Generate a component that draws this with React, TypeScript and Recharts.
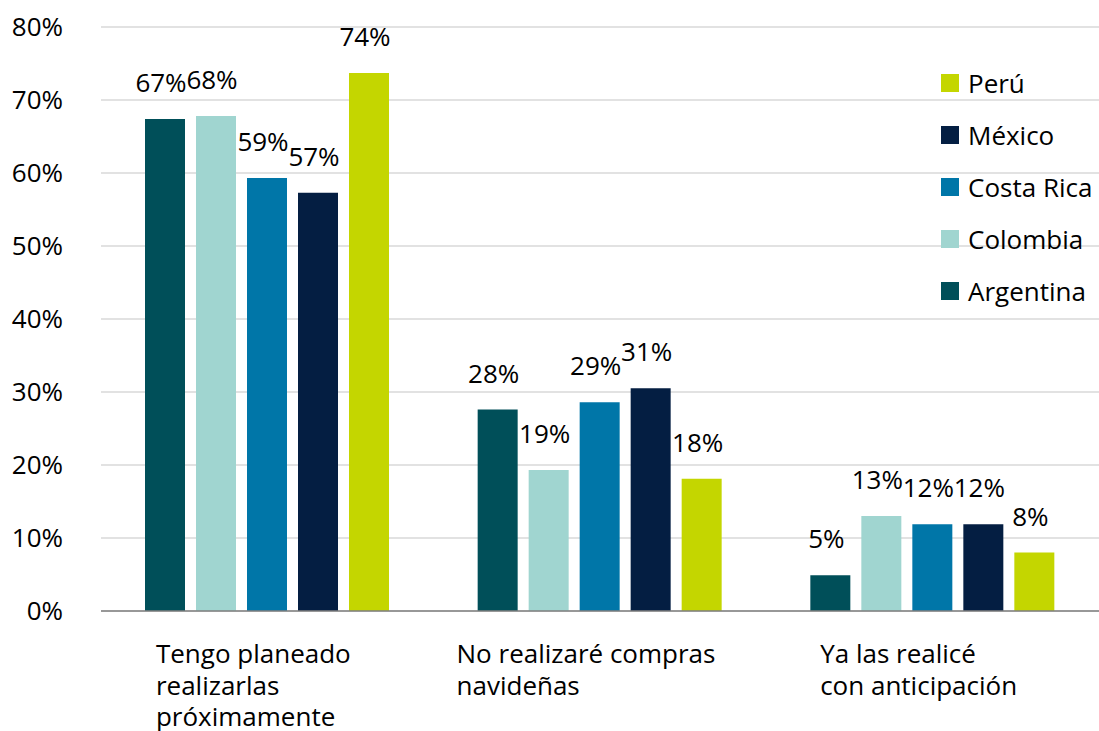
import { Bar, BarChart, CartesianGrid, LabelList, Legend, XAxis, YAxis } from 'recharts';

const categories = [
  'Tengo planeado realizarlas próximamente',
  'No realizaré compras navideñas',
  'Ya las realicé con anticipación',
];
const categoryLines = [
  ['Tengo planeado', 'realizarlas', 'próximamente'],
  ['No realizaré compras', 'navideñas'],
  ['Ya las realicé', 'con anticipación'],
];

const argentina = [67.4, 27.6, 4.9];
const colombia = [67.8, 19.3, 13.0];
const costaRica = [59.3, 28.6, 11.9];
const mexico = [57.3, 30.5, 11.9];
const peru = [73.7, 18.1, 8.0];

const yTicks = [0, 10, 20, 30, 40, 50, 60, 70, 80];

const FONT = '"Open Sans", "Noto Sans", sans-serif';
const FS = 26;

const series = [
  { key: 'argentina', name: 'Argentina', values: argentina, color: '#004F59' },
  { key: 'colombia', name: 'Colombia', values: colombia, color: '#A0D5D0' },
  { key: 'costaRica', name: 'Costa Rica', values: costaRica, color: '#0076A8' },
  { key: 'mexico', name: 'México', values: mexico, color: '#041E42' },
  { key: 'peru', name: 'Perú', values: peru, color: '#C4D600' },
];

const data = categories.map((name, i) => {
  const row: Record<string, number | string> = { name };
  series.forEach((s) => {
    row[s.key] = s.values[i];
  });
  return row;
});

let canvas: HTMLCanvasElement | null = null;
function textWidth(text: string) {
  if (!canvas) canvas = document.createElement('canvas');
  const ctx = canvas.getContext('2d');
  if (!ctx) return text.length * FS * 0.5;
  ctx.font = `${FS}px ${FONT}`;
  return ctx.measureText(text).width;
}

function CategoryTick({ x, y, payload }: any) {
  const lines = categoryLines[payload.index] ?? [String(payload.value)];
  const block = Math.max(...lines.map(textWidth));
  const left = x - block / 2 - 14;
  return (
    <text x={left} y={y + 44} fontSize={FS} fontFamily={FONT} fill="#000">
      {lines.map((line: string, i: number) => (
        <tspan key={line} x={left} dy={i === 0 ? 0 : 31.5}>
          {line}
        </tspan>
      ))}
    </text>
  );
}

function LegendBox() {
  const items = [...series].reverse();
  return (
    <div style={{ fontFamily: FONT, fontSize: FS, color: '#000', lineHeight: 1 }}>
      {items.map((s) => (
        <div key={s.key} style={{ display: 'flex', alignItems: 'center', height: 52 }}>
          <span style={{ width: 18, height: 18, background: s.color, marginRight: 9, display: 'inline-block' }} />
          <span>{s.name}</span>
        </div>
      ))}
    </div>
  );
}

export default function App() {
  return (
    <div style={{ position: 'absolute', left: 0, top: 0, background: '#fff' }}>
      <BarChart
        width={1099}
        height={731}
        data={data}
        margin={{ top: 27, right: 0, left: 0, bottom: 0 }}
        barSize={40}
        barGap={11}
      >
        <CartesianGrid vertical={false} stroke="#D9D9D9" strokeWidth={1.5} />
        <XAxis
          dataKey="name"
          tick={<CategoryTick />}
          tickLine={false}
          axisLine={{ stroke: '#7F7F7F', strokeWidth: 1.5 }}
          interval={0}
          height={120}
        />
        <YAxis
          type="number"
          domain={[0, 80]}
          ticks={yTicks}
          width={101}
          tickSize={0}
          tickMargin={38}
          axisLine={false}
          tickLine={false}
          tickFormatter={(v: number) => `${v}%`}
          tick={{ fontSize: FS, fontFamily: FONT, fill: '#000' }}
        />
        <Legend
          verticalAlign="middle"
          align="center"
          layout="vertical"
          content={<LegendBox />}
          wrapperStyle={{ left: 941, top: 57, width: 158 }}
        />
        {series.map((s) => (
          <Bar key={s.key} dataKey={s.key} name={s.name} fill={s.color} isAnimationActive={false}>
            <LabelList
              dataKey={s.key}
              position="top"
              offset={27}
              formatter={(v: number) => `${Math.round(v)}%`}
              style={{ fontSize: FS, fontFamily: FONT, fill: '#000', transform: 'translateX(-4px)' }}
            />
          </Bar>
        ))}
      </BarChart>
    </div>
  );
}
